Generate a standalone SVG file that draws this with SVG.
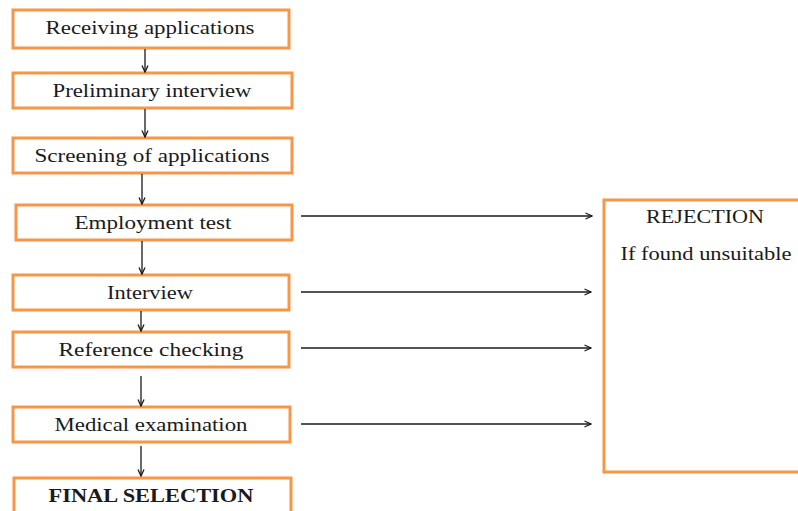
<svg xmlns="http://www.w3.org/2000/svg" width="798" height="511" viewBox="0 0 798 511">
<style>
.box{fill:#fff;stroke:#F79646;stroke-width:3}
.t{font-family:"Liberation Serif","Times New Roman",serif;font-size:19px;fill:#1a1a1a;text-anchor:middle}
.b{font-weight:bold}
.c{stroke:#1a1a1a;stroke-width:1.3;fill:none}
</style>
<defs>
<marker id="ah" markerWidth="8" markerHeight="8" refX="7" refY="4" orient="auto" markerUnits="userSpaceOnUse">
<path d="M0.5,1 L7,4 L0.5,7" fill="none" stroke="#1a1a1a" stroke-width="1.3"/>
</marker>
</defs>
<rect width="798" height="511" fill="#fff"/>
<g id="n1"><rect class="box" x="13" y="10" width="276" height="38"/><text class="t" x="150" y="34" textLength="209" lengthAdjust="spacingAndGlyphs">Receiving applications</text></g>
<g id="n2"><rect class="box" x="13" y="73" width="279" height="35"/><text class="t" x="152" y="97" textLength="199" lengthAdjust="spacingAndGlyphs">Preliminary interview</text></g>
<g id="n3"><rect class="box" x="13" y="138" width="279" height="35"/><text class="t" x="152" y="162" textLength="235" lengthAdjust="spacingAndGlyphs">Screening of applications</text></g>
<g id="n4"><rect class="box" x="16" y="205" width="276" height="35"/><text class="t" x="153" y="229" textLength="157" lengthAdjust="spacingAndGlyphs">Employment test</text></g>
<g id="n5"><rect class="box" x="13" y="275" width="276" height="35"/><text class="t" x="150" y="299" textLength="86" lengthAdjust="spacingAndGlyphs">Interview</text></g>
<g id="n6"><rect class="box" x="13" y="332" width="276" height="35"/><text class="t" x="151" y="356" textLength="185" lengthAdjust="spacingAndGlyphs">Reference checking</text></g>
<g id="n7"><rect class="box" x="13" y="407" width="277" height="35"/><text class="t" x="151" y="431" textLength="193" lengthAdjust="spacingAndGlyphs">Medical examination</text></g>
<g id="n8"><rect class="box" x="14" y="478" width="277" height="40"/><text class="t b" x="151" y="502" textLength="205" lengthAdjust="spacingAndGlyphs">FINAL SELECTION</text></g>
<g id="n9"><rect class="box" x="604" y="200" width="200" height="272"/><text class="t" x="705" y="223" textLength="118" lengthAdjust="spacingAndGlyphs">REJECTION</text><text class="t" x="706" y="260" textLength="171" lengthAdjust="spacingAndGlyphs">If found unsuitable</text></g>
<g id="connectors">
<line class="c" x1="145" y1="49" x2="145" y2="72" marker-end="url(#ah)"/>
<line class="c" x1="145" y1="109" x2="145" y2="137" marker-end="url(#ah)"/>
<line class="c" x1="142" y1="174" x2="142" y2="204" marker-end="url(#ah)"/>
<line class="c" x1="142" y1="241" x2="142" y2="274" marker-end="url(#ah)"/>
<line class="c" x1="141" y1="311" x2="141" y2="331" marker-end="url(#ah)"/>
<line class="c" x1="141" y1="376" x2="141" y2="406" marker-end="url(#ah)"/>
<line class="c" x1="141" y1="446" x2="141" y2="476" marker-end="url(#ah)"/>
<line class="c" x1="301" y1="216" x2="592" y2="216" marker-end="url(#ah)"/>
<line class="c" x1="301" y1="292" x2="591" y2="292" marker-end="url(#ah)"/>
<line class="c" x1="301" y1="348" x2="591" y2="348" marker-end="url(#ah)"/>
<line class="c" x1="301" y1="424" x2="591" y2="424" marker-end="url(#ah)"/>
</g>
</svg>
